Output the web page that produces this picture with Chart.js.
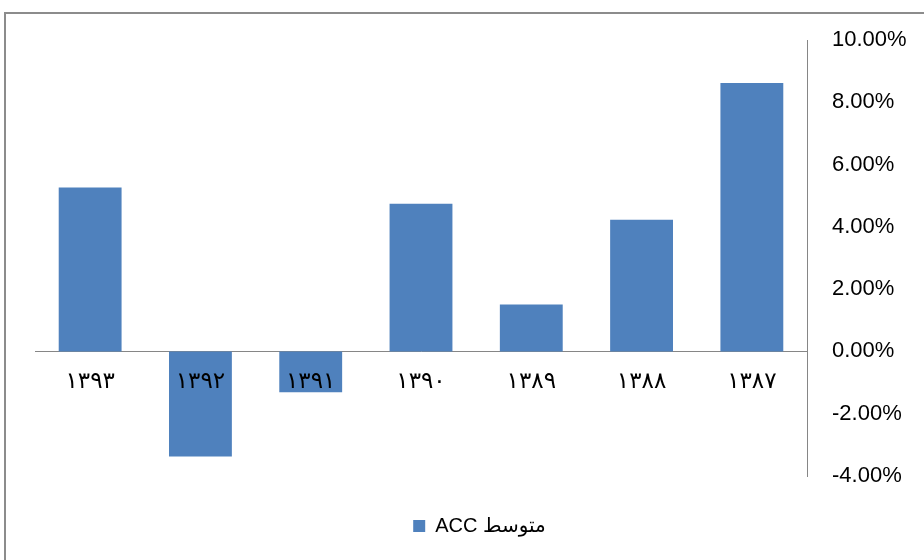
<!DOCTYPE html>
<html>
<head>
<meta charset="utf-8">
<script src="https://cdn.jsdelivr.net/npm/chart.js@4.4.1/dist/chart.umd.min.js"></script>
<style>
  body { margin: 0; background: #fff; overflow: hidden; }
  #wrap { position: absolute; left: 0; top: 0; width: 924px; height: 560px; }
  #frame {
    position: absolute; left: 4px; top: 12px; width: 1000px; height: 1000px;
    border-left: 2px solid #8c8c8c; border-top: 2px solid #8c8c8c;
    pointer-events: none;
  }
</style>
</head>
<body>
<div id="frame"></div>
<div id="wrap"><canvas id="chart"></canvas></div>
<script>
// years in chronological order (axis is reversed, right-to-left)
const years = ['۱۳۸۷', '۱۳۸۸', '۱۳۸۹', '۱۳۹۰', '۱۳۹۱', '۱۳۹۲', '۱۳۹۳'];
const accAverage = [8.62, 4.23, 1.51, 4.74, -1.31, -3.37, 5.26]; // percent
const seriesLabel = 'ACC متوسط';
const yTicks = [-4, -2, 0, 2, 4, 6, 8, 10];

const ctx = document.getElementById('chart').getContext('2d');

new Chart(ctx, {
    type: 'bar',
    data: {
        labels: years,
        datasets: [{
            label: seriesLabel,
            data: accAverage,
            backgroundColor: '#4f81bd',
            borderWidth: 0,
            categoryPercentage: 1,
            barPercentage: 0.57
        }]
    },
    options: {
        responsive: true,
        maintainAspectRatio: false,
        animation: false,
        layout: {
            padding: { left: 35, top: 40, right: 0, bottom: 14 }
        },
        scales: {
            x: {
                reverse: true,
                position: { y: 0 },
                grid: { display: false, drawTicks: false },
                border: { display: true, color: '#868686', width: 1 },
                ticks: {
                    z: 1, // labels sit on top of the negative bars, like Excel
                    color: '#000',
                    padding: 17,
                    maxRotation: 0,
                    font: { family: 'DejaVu Sans', size: 23 }
                }
            },
            y: {
                position: 'right',
                min: yTicks[0],
                max: yTicks[yTicks.length - 1],
                afterFit: scale => { scale.width = 117; },
                afterBuildTicks: scale => {
                    scale.ticks = yTicks.map(v => ({ value: v }));
                },
                grid: { display: false, drawTicks: false },
                border: { display: true, color: '#868686', width: 1 },
                ticks: {
                    color: '#000',
                    padding: 25,
                    font: { family: 'Liberation Sans', size: 22 },
                    callback: v => v.toFixed(2) + '%'
                }
            }
        },
        plugins: {
            legend: {
                position: 'bottom',
                labels: {
                    color: '#000',
                    boxWidth: 12,
                    boxHeight: 12,
                    padding: 40,
                    font: { family: 'Liberation Sans, DejaVu Sans', size: 20 }
                }
            },
            tooltip: { enabled: false }
        }
    }
});
</script>
</body>
</html>
